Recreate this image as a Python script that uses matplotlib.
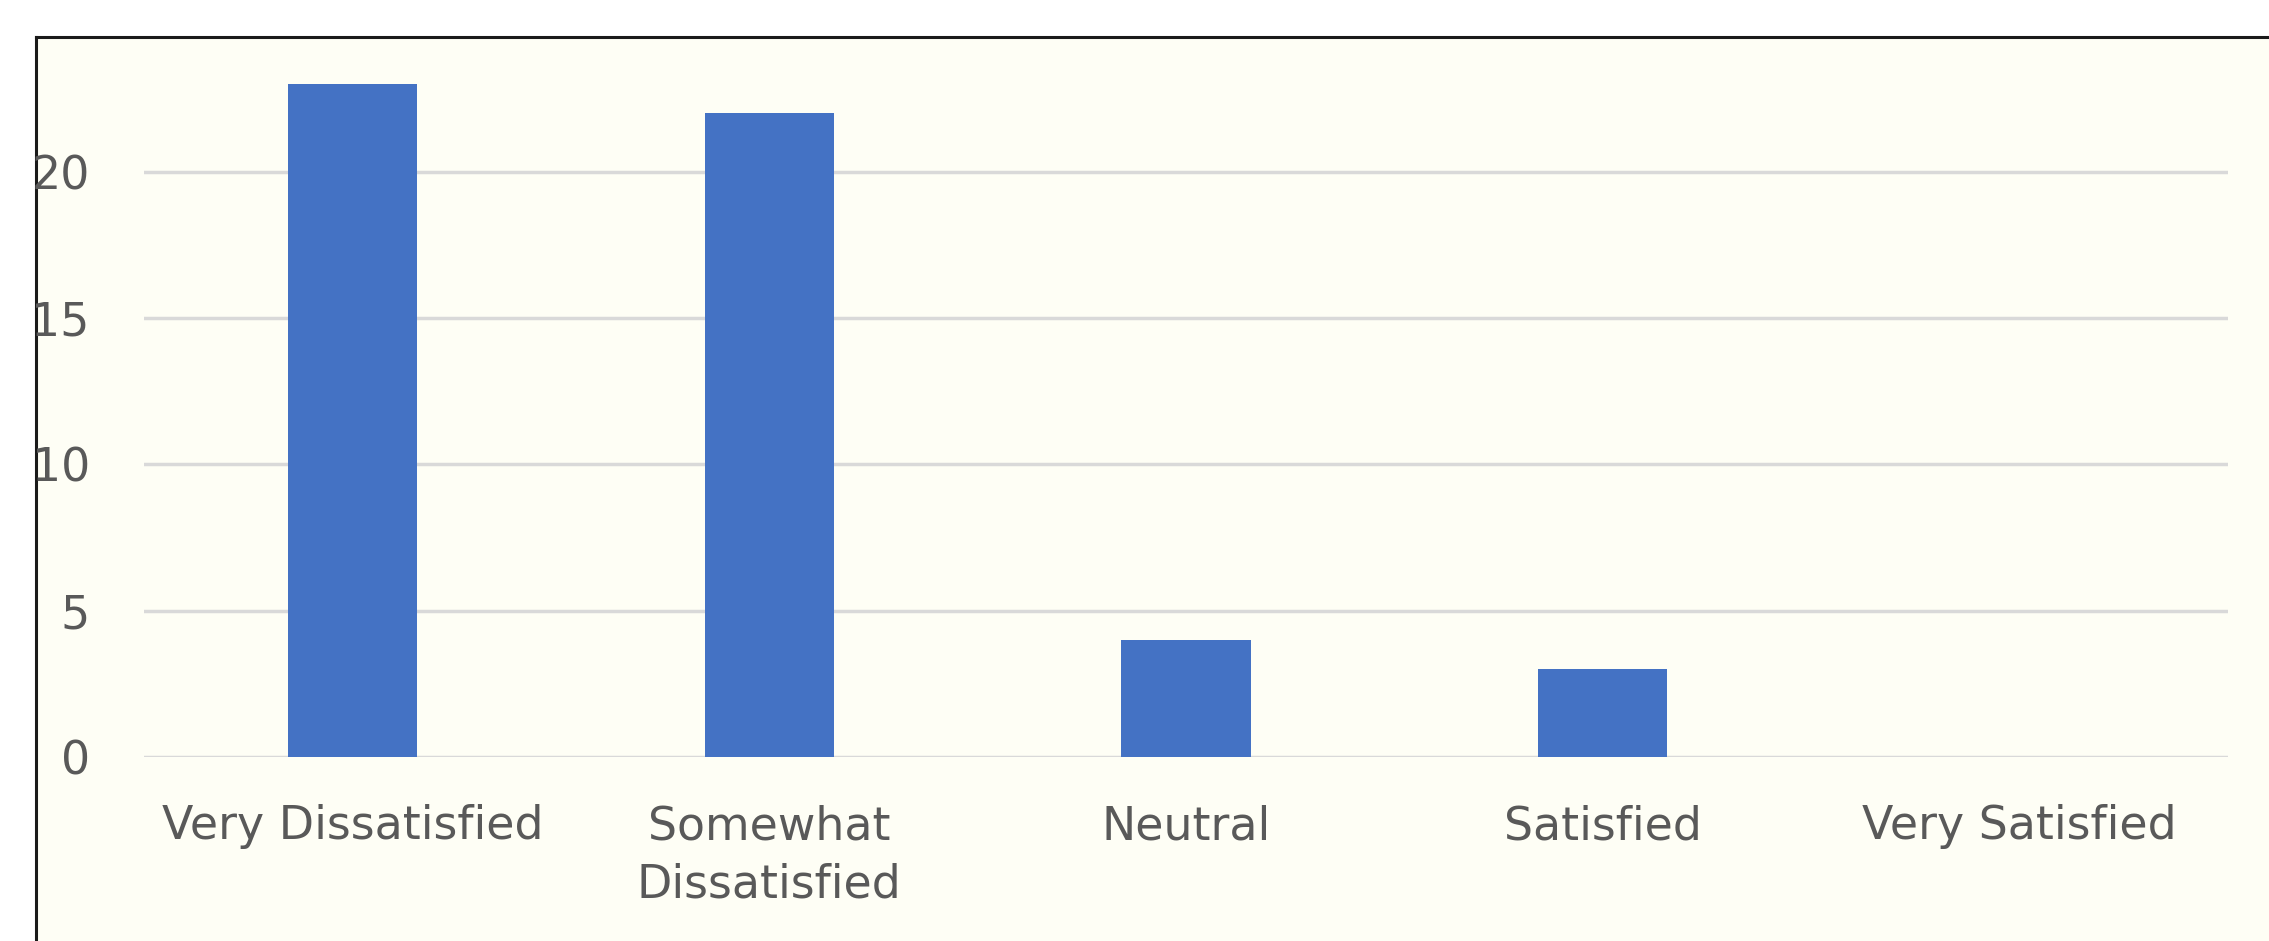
import matplotlib
matplotlib.use("Agg")
import matplotlib.pyplot as plt
from matplotlib.patches import Rectangle

categories = ["Very Dissatisfied", "Somewhat\nDissatisfied", "Neutral", "Satisfied", "Very Satisfied"]
counts = [23, 22, 4, 3, 0]
yticks = [0, 5, 10, 15, 20]

W, H = 2269, 941
fig = plt.figure(figsize=(W / 100, H / 100), dpi=100)
fig.patch.set_facecolor("white")

# chart area frame (cropped on right and bottom)
fx, fy = 36 / W, 1 - 37 / H
fig.add_artist(Rectangle((fx, 0), 1 - fx, fy, transform=fig.transFigure,
                         facecolor="#FEFEF5", edgecolor="none", zorder=-10))
fig.add_artist(plt.Line2D([fx, 1], [fy, fy], transform=fig.transFigure, color="#1a1a1a", lw=2.2))
fig.add_artist(plt.Line2D([fx, fx], [0, fy], transform=fig.transFigure, color="#1a1a1a", lw=2.2))

left, right = 144 / W, 2228 / W
bottom = (H - 757) / H
top = (H - 40) / H
ax = fig.add_axes([left, bottom, right - left, top - bottom])
ax.set_facecolor("none")
ax.set_zorder(5)

x = range(len(categories))
ax.bar(x, counts, width=0.31, color="#4472C4", zorder=3)

ax.set_xlim(-0.5, len(categories) - 0.5)
ax.set_ylim(0, 24.5)
ax.set_yticks(yticks)
ax.set_xticks(list(x))
ax.set_xticklabels(categories, linespacing=1.39)
ax.grid(axis="y", color="#D9D9D9", lw=2.5, zorder=0)
ax.tick_params(axis="both", length=0, labelcolor="#595959", labelsize=33)
ax.tick_params(axis="x", pad=34)
ax.tick_params(axis="y", pad=39)
for s in ax.spines.values():
    s.set_visible(False)

fig.savefig("out.png", dpi=100)
